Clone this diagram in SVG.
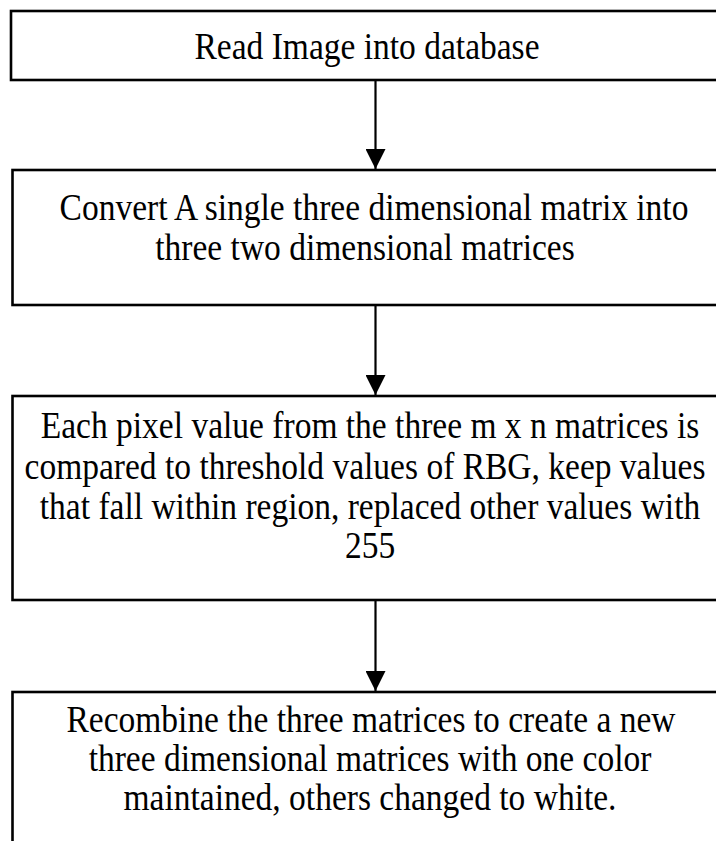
<svg xmlns="http://www.w3.org/2000/svg" width="716" height="841" viewBox="0 0 716 841">
<defs>
<style>
.box{fill:#fff;stroke:#000;stroke-width:2.6}
.t{font-family:"Liberation Serif","Times New Roman",serif;font-size:33.5px;fill:#000;text-anchor:middle}
.c{stroke:#000;stroke-width:2.2;fill:none}
</style>
<marker id="ah" markerWidth="20" markerHeight="20" viewBox="0 0 20 20" refX="20" refY="10" orient="auto" markerUnits="userSpaceOnUse">
<path d="M0,0 L20,10 L0,20 Z" fill="#000"/>
</marker>
</defs>
<rect width="716" height="841" fill="#fff"/>
<g id="n1">
<rect class="box" x="11" y="11" width="740" height="69"/>
<text class="t" transform="translate(367,59) scale(1,1.15)">Read Image into database</text>
</g>
<g id="n2">
<rect class="box" x="12.5" y="170" width="740" height="135"/>
<text class="t" transform="translate(374,220) scale(1,1.15)">Convert A single three dimensional matrix into</text>
<text class="t" transform="translate(365,260) scale(1,1.15)">three two dimensional matrices</text>
</g>
<g id="n3">
<rect class="box" x="12.5" y="396" width="740" height="204"/>
<text class="t" transform="translate(370,438) scale(1,1.15)">Each pixel value from the three m x n matrices is</text>
<text class="t" transform="translate(365,479) scale(1,1.15)">compared to threshold values of RBG, keep values</text>
<text class="t" transform="translate(370,519) scale(1,1.15)">that fall within region, replaced other values with</text>
<text class="t" transform="translate(370,558) scale(1,1.15)">255</text>
</g>
<g id="n4">
<rect class="box" x="12.5" y="692" width="740" height="200"/>
<text class="t" transform="translate(371,732) scale(1,1.15)">Recombine the three matrices to create a new</text>
<text class="t" transform="translate(370,771) scale(1,1.15)">three dimensional matrices with one color</text>
<text class="t" transform="translate(370,810) scale(1,1.15)">maintained, others changed to white.</text>
</g>
<g id="connectors">
<line class="c" x1="375.5" y1="80" x2="375.5" y2="169" marker-end="url(#ah)"/>
<line class="c" x1="375.5" y1="305" x2="375.5" y2="395" marker-end="url(#ah)"/>
<line class="c" x1="375.5" y1="600" x2="375.5" y2="691" marker-end="url(#ah)"/>
</g>
</svg>
